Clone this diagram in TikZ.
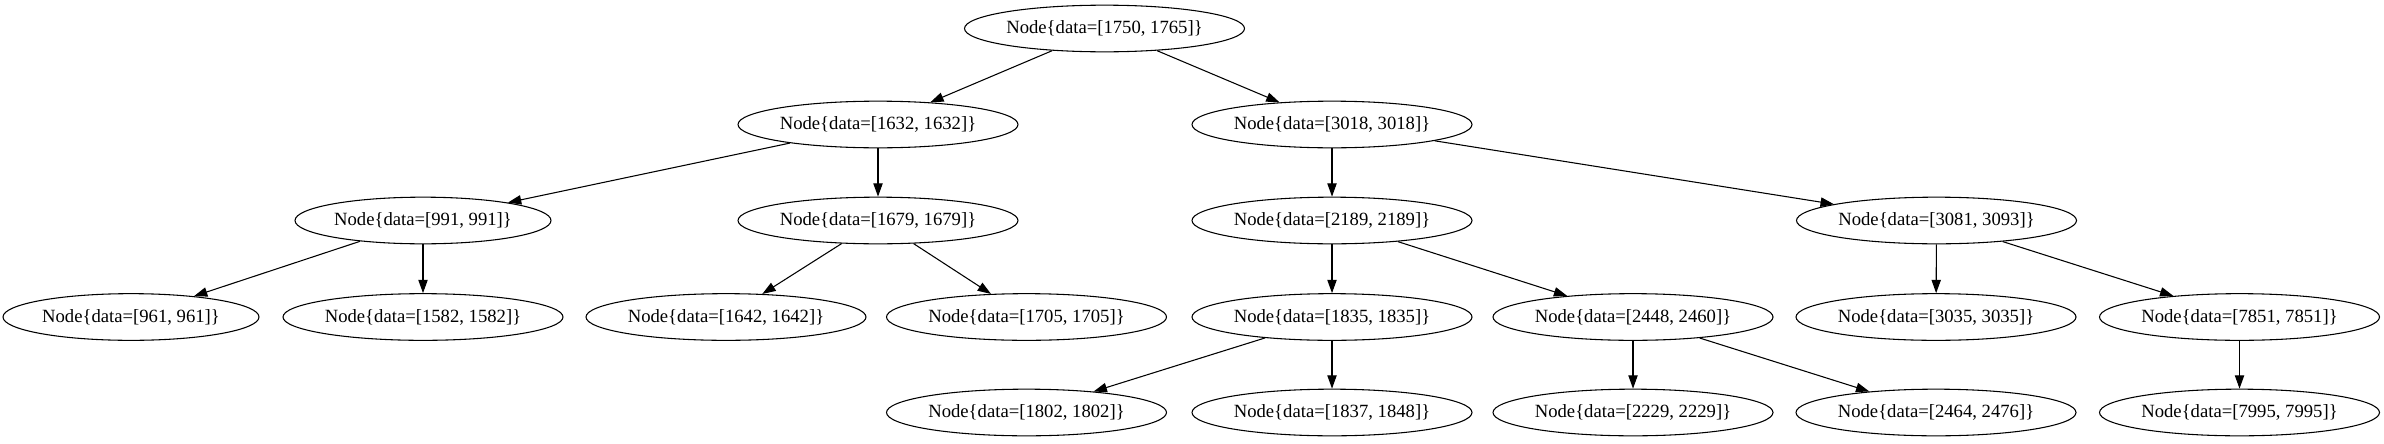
\documentclass[tikz,border=0pt]{standalone}
\usepackage{fontspec}
\setmainfont{Liberation Serif}
\usetikzlibrary{shapes.geometric,arrows.meta}

\begin{document}
\begin{tikzpicture}[x=0.75pt,y=-0.75pt,
    treenode/.style={draw,ellipse,line width=0.8pt,inner sep=0pt,
        minimum width=210pt,minimum height=35pt,font=\fontsize{14}{16}\selectfont},
    shortnode/.style={treenode,minimum width=192pt},
    link/.style={draw,line width=0.8pt,-{Triangle[length=10pt,width=7pt]}}]
    \useasboundingbox (0,0) rectangle (2384,443);

    % level 0 and 1
    \node[treenode] (n1750) at (1104.5,28.5) {Node\{data=[1750, 1765]\}};
    \node[treenode] (n1632) at (878,124.5) {Node\{data=[1632, 1632]\}};
    \node[treenode] (n3018) at (1332,124.5) {Node\{data=[3018, 3018]\}};

    % level 2
    \node[shortnode] (n991) at (423,220.5) {Node\{data=[991, 991]\}};
    \node[treenode] (n1679) at (878,220.5) {Node\{data=[1679, 1679]\}};
    \node[treenode] (n2189) at (1332,220.5) {Node\{data=[2189, 2189]\}};
    \node[treenode] (n3081) at (1936.5,220.5) {Node\{data=[3081, 3093]\}};

    % level 3
    \node[shortnode] (n961) at (131,317) {Node\{data=[961, 961]\}};
    \node[treenode] (n1582) at (423,317) {Node\{data=[1582, 1582]\}};
    \node[treenode] (n1642) at (726,317) {Node\{data=[1642, 1642]\}};
    \node[treenode] (n1705) at (1026.5,317) {Node\{data=[1705, 1705]\}};
    \node[treenode] (n1835) at (1332,317) {Node\{data=[1835, 1835]\}};
    \node[treenode] (n2448) at (1633,317) {Node\{data=[2448, 2460]\}};
    \node[treenode] (n3035) at (1936,317) {Node\{data=[3035, 3035]\}};
    \node[treenode] (n7851) at (2239.5,317) {Node\{data=[7851, 7851]\}};

    % level 4
    \node[treenode] (n1802) at (1026.5,412.5) {Node\{data=[1802, 1802]\}};
    \node[treenode] (n1837) at (1332,412.5) {Node\{data=[1837, 1848]\}};
    \node[treenode] (n2229) at (1633,412.5) {Node\{data=[2229, 2229]\}};
    \node[treenode] (n2464) at (1936,412.5) {Node\{data=[2464, 2476]\}};
    \node[treenode] (n7995) at (2239.5,412.5) {Node\{data=[7995, 7995]\}};

    \foreach \from/\to in {n1750/n1632, n1750/n3018, n1632/n991, n1632/n1679,
        n3018/n2189, n3018/n3081, n991/n961, n991/n1582, n1679/n1642,
        n1679/n1705, n2189/n1835, n2189/n2448, n3081/n3035, n3081/n7851,
        n1835/n1802, n1835/n1837, n2448/n2229, n2448/n2464, n7851/n7995}
        \path[link] (\from) -- (\to);
\end{tikzpicture}
\end{document}
